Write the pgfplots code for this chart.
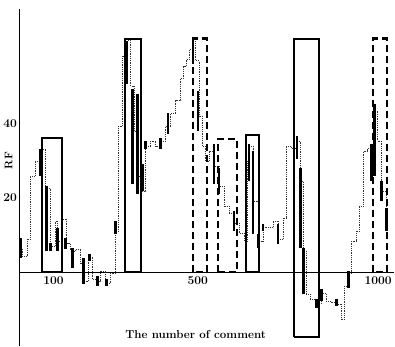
\documentclass[border={0pt 0pt 0pt 8pt}]{standalone}
\usepackage{pgfplots}
\pgfplotsset{compat=1.18}
\begin{document}
\begin{tikzpicture}
\begin{axis}[
  scale only axis, width=374pt, height=337pt,
  xmin=5.6, xmax=1045, ymin=-20, ymax=71.1,
  axis x line=middle, axis y line=left,
  axis line style={-, line width=1.1pt, black},
  xtick={100,500,1000}, ytick={20,40},
  major tick length=0pt,
  /pgf/number format/assume math mode=true,
  /pgf/number format/1000 sep={},
  tick label style={font=\fontsize{12}{14}\selectfont\bfseries},
  xticklabel style={yshift=-1pt},
  yticklabel style={xshift=1pt},
  xlabel={The number of comment}, ylabel={RF},
  xlabel style={at={(axis description cs:0.47,0.035)}, anchor=center, font=\fontsize{11.5}{13}\selectfont\bfseries},
  ylabel style={at={(axis description cs:-0.029,0.55)}, anchor=center, font=\fontsize{11}{13}\selectfont\bfseries},
  clip=false,
]
% trajectory (thin dotted steps)
\addplot[const plot, densely dotted, line width=0.8pt, black!80] coordinates {
(5.6,6.5)(13.9,4.3)(27.8,8.9)(36.1,25.9)(50.0,30.0)(63.9,33.2)(77.8,22.7)(91.7,7.0)(105.6,13.8)(111.2,8.4)(125.1,14.3)(136.2,7.8)(147.3,5.7)(161.2,6.2)(175.1,2.4)(186.3,-2.4)(197.4,4.1)(208.5,-1.9)(222.4,-2.4)(230.7,0.3)(244.6,-3.0)(258.5,-0.3)(272.4,11.1)(280.8,39.4)(291.9,58.3)(305.8,62.4)(314.1,50.2)(325.3,38.1)(333.6,25.9)(344.7,21.9)(355.8,34.0)(369.7,35.4)(383.6,34.0)(397.5,35.4)(411.4,39.4)(425.3,42.9)(439.2,46.2)(453.1,52.4)(461.5,55.6)(469.8,57.5)(478.2,60.2)(486.5,62.9)(494.8,57.0)(503.2,42.1)(511.5,34.0)(519.9,30.0)(531.0,32.7)(544.9,28.6)(558.8,23.2)(572.7,17.8)(586.6,15.9)(600.5,13.2)(614.4,10.5)(628.3,8.4)(636.6,30.0)(642.2,34.0)(653.3,19.2)(667.2,8.4)(681.1,12.2)(695.0,12.2)(708.9,13.8)(722.8,8.9)(736.7,14.6)(745.0,34.0)(758.9,33.5)(775.6,35.4)(784.0,24.6)(792.3,5.7)(800.6,-5.9)(811.8,-7.3)(828.4,-8.4)(842.3,-5.7)(856.2,-7.8)(870.1,-8.1)(884.0,-8.6)(897.9,-12.7)(906.3,-3.8)(917.4,-0.3)(925.7,8.4)(939.6,11.1)(948.0,17.8)(959.1,32.7)(970.2,33.5)(981.3,30.0)(989.7,43.5)(998.0,35.4)(1009.1,21.9)(1023.0,13.8)
};
% candle bodies
\addplot[unbounded coords=jump, line width=2.6pt, black] coordinates {
(8.3,9.2)(8.3,3.8)(8.3,nan)
(63.9,33.2)(63.9,25.9)(63.9,nan)
(80.6,23.2)(80.6,5.7)(80.6,nan)
(91.7,7.8)(91.7,5.7)(91.7,nan)
(111.2,11.9)(111.2,5.7)(111.2,nan)
(133.4,9.2)(133.4,6.2)(133.4,nan)
(152.9,6.5)(152.9,1.1)(152.9,nan)
(183.5,3.8)(183.5,-3.2)(183.5,nan)
(200.2,4.9)(200.2,3.0)(200.2,nan)
(222.4,-1.1)(222.4,-3.8)(222.4,nan)
(247.4,-1.9)(247.4,-3.8)(247.4,nan)
(272.4,13.8)(272.4,10.3)(272.4,nan)
(303.0,62.4)(303.0,50.8)(303.0,nan)
(319.7,49.4)(319.7,23.8)(319.7,nan)
(333.6,48.1)(333.6,21.1)(333.6,nan)
(347.5,29.2)(347.5,21.9)(347.5,nan)
(355.8,35.4)(355.8,33.2)(355.8,nan)
(397.5,36.2)(397.5,33.2)(397.5,nan)
(417.0,42.9)(417.0,37.3)(417.0,nan)
(486.5,63.2)(486.5,56.2)(486.5,nan)
(500.4,48.9)(500.4,38.1)(500.4,nan)
(544.9,34.6)(544.9,23.8)(544.9,nan)
(558.8,28.1)(558.8,21.1)(558.8,nan)
(600.5,16.5)(600.5,11.1)(600.5,nan)
(642.2,34.6)(642.2,24.6)(642.2,nan)
(653.3,32.7)(653.3,10.3)(653.3,nan)
(667.2,10.3)(667.2,6.5)(667.2,nan)
(681.1,13.0)(681.1,11.1)(681.1,nan)
(722.8,13.0)(722.8,7.6)(722.8,nan)
(775.6,36.7)(775.6,30.5)(775.6,nan)
(784.0,28.1)(784.0,6.5)(784.0,nan)
(792.3,6.5)(792.3,-5.9)(792.3,nan)
(828.4,-7.3)(828.4,-9.7)(828.4,nan)
(842.3,-4.6)(842.3,-7.8)(842.3,nan)
(884.0,-7.3)(884.0,-9.2)(884.0,nan)
(917.4,0.3)(917.4,-4.3)(917.4,nan)
(981.3,34.6)(981.3,24.6)(981.3,nan)
(989.7,45.4)(989.7,25.9)(989.7,nan)
(1009.1,24.6)(1009.1,19.2)(1009.1,nan)
(1023.0,17.3)(1023.0,11.1)
};
% solid highlight rectangles
\addplot[unbounded coords=jump, line width=2pt, black, line join=miter] coordinates {
(67,0)(67,36.2)(125,36.2)(125,0)(67,0)(67,nan)
(297,0)(297,63)(342,63)(342,0)(297,0)(297,nan)
(633,0)(633,37)(669,37)(669,0)(633,0)(633,nan)
(767,-17.6)(767,63)(836,63)(836,-17.6)(767,-17.6)
};
% dashed highlight rectangles
\addplot[unbounded coords=jump, line width=2.4pt, black, dash pattern=on 7pt off 4pt] coordinates {
(486,0)(486,63)(525,63)(525,0)(486,0)(486,nan)
(556,0)(556,36)(608,36)(608,0)(556,0)(556,nan)
(986,0)(986,63)(1025,63)(1025,0)(986,0)
};
\end{axis}
\end{tikzpicture}
\end{document}
